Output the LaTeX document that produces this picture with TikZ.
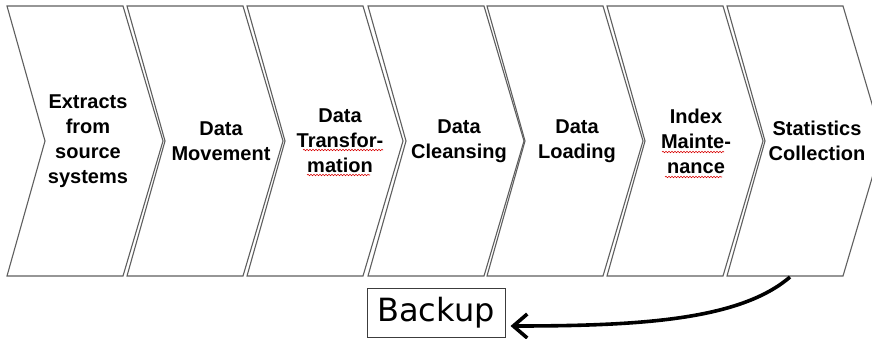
\documentclass[tikz,border=0pt]{standalone}
\usepackage{fontspec}
\setmainfont{Liberation Sans}
\newfontfamily\backupfont{DejaVu Sans}
\usetikzlibrary{arrows.meta,decorations.pathmorphing}
\definecolor{chevgray}{RGB}{95,95,95}
\definecolor{boxgray}{RGB}{60,60,60}

\begin{document}
\begin{tikzpicture}[x=1pt,y=-1pt,
  chev/.style={draw=chevgray, line width=1.1pt, fill=white, line join=miter},
  stagetext/.style={align=center, inner sep=0pt,
    font=\bfseries\fontsize{20}{25}\selectfont},
  spell/.style={draw=red!85!black, line width=0.6pt, decorate,
    decoration={snake, segment length=3pt, amplitude=0.7pt}},
  backupbox/.style={draw=boxgray, line width=1pt, inner sep=0pt,
    minimum width=138pt, minimum height=49pt,
    font=\backupfont\fontsize{32}{36}\selectfont},
  backarrow/.style={line width=3.6pt,
    -{Straight Barb[length=14pt,width=24pt]}}
]
\useasboundingbox (0,0) rectangle (872,339);
\clip (0,0) rectangle (872,339);

% seven process chevrons, each 120pt apart
\foreach \l in {7,127,247,368,487,607,727}
  \draw[chev] (\l,6) -- ++(116,0) -- ++(40,135) -- ++(-40,135)
    -- ++(-116,0) -- ++(38,-135) -- cycle;

% stage captions
\node[stagetext] (s1) at (88,141)  {Extracts\\from\\source\\systems};
\node[stagetext] (s2) at (221,141) {Data\\Movement};
\node[stagetext] (s3) at (340,141) {Data\\Transfor-\\mation};
\node[stagetext] (s4) at (459,141) {Data\\Cleansing};
\node[stagetext] (s5) at (577,141) {Data\\Loading};
\node[stagetext] (s6) at (696,141) {Index\\Mainte-\\nance};
\node[stagetext] (s7) at (817,141) {Statistics\\Collection};

% spell-check squiggles under hyphenated words
\draw[spell] (303,150) -- (383,150);
\draw[spell] (307,175) -- (370,175);
\draw[spell] (662,152) -- (724,152);
\draw[spell] (665,177) -- (722,177);

% backup step fed from the last stage
\node[backupbox] (backup) at (436,312.5) {Backup};
\coordinate (tail) at (790,277);
\draw[backarrow] (tail) .. controls (740,320) and (640,326)
  .. ([xshift=5pt,yshift=-13.5pt]backup.east);
\end{tikzpicture}
\end{document}
